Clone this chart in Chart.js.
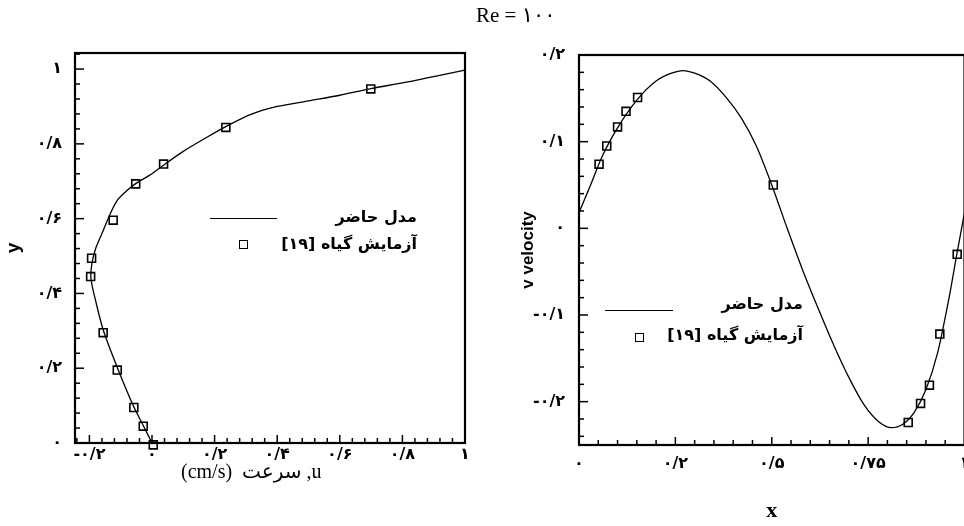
<!DOCTYPE html>
<html><head><meta charset="utf-8">
<script src="https://cdn.jsdelivr.net/npm/chart.js@4.4.0/dist/chart.umd.min.js"></script>
<style>
html,body{margin:0;padding:0;width:964px;height:526px;overflow:hidden;background:#fff;position:relative;}
#c1{position:absolute;left:0;top:0;}
#c2{position:absolute;left:490px;top:0;}
.txt{position:absolute;white-space:nowrap;color:#000;}
.fa{font-family:"DejaVu Sans",sans-serif;font-size:16px;font-weight:bold;line-height:20px;direction:rtl;text-align:right;}
.lline{position:absolute;height:0;border-top:1.4px solid #000;}
.lsq{position:absolute;width:7px;height:7px;border:1.5px solid #000;}
</style></head><body>
<canvas id="c1" width="480" height="526"></canvas>
<canvas id="c2" width="490" height="526"></canvas>

<div class="txt" id="title" style="left:476px;top:3px;font-family:'Liberation Serif','DejaVu Sans',serif;font-size:21px;">Re = ۱۰۰</div>

<div class="txt" style="left:181px;top:459px;font-family:'Liberation Serif','DejaVu Sans',serif;font-size:20px;">(cm/s)&nbsp; سرعت ,u</div>

<!-- left legend -->
<div class="lline" style="left:210px;top:218px;width:67px;"></div>
<div class="txt fa" style="right:547px;top:207px;">مدل حاضر</div>
<div class="lsq" style="left:239px;top:240px;"></div>
<div class="txt fa" style="right:547px;top:234px;">آزمایش گیاه [۱۹]</div>

<!-- right legend -->
<div class="lline" style="left:605px;top:310px;width:68px;"></div>
<div class="txt fa" style="right:161px;top:294px;">مدل حاضر</div>
<div class="lsq" style="left:635px;top:333px;"></div>
<div class="txt fa" style="right:161px;top:325px;">آزمایش گیاه [۱۹]</div>

<script>
// ---- Left panel data (u velocity vs y) ----
const leftModelU = [0.0, -0.03, -0.06, -0.11, -0.155, -0.18, -0.195, -0.192, -0.18, -0.16, -0.135, -0.11, -0.08, -0.05, 0.0, 0.04, 0.10, 0.17, 0.24, 0.32, 0.40, 0.50, 0.60, 0.70, 0.80, 0.90, 1.00];
const leftModelY = [0.0, 0.05, 0.10, 0.20, 0.30, 0.38, 0.44, 0.48, 0.52, 0.56, 0.61, 0.65, 0.675, 0.695, 0.72, 0.745, 0.78, 0.815, 0.848, 0.88, 0.90, 0.915, 0.93, 0.948, 0.963, 0.98, 0.997];
const leftExpU = [0.004, -0.028, -0.058, -0.111, -0.156, -0.196, -0.193, -0.124, -0.052, 0.037, 0.236, 0.699];
const leftExpY = [-0.005, 0.045, 0.095, 0.195, 0.295, 0.445, 0.494, 0.596, 0.693, 0.746, 0.844, 0.947];

// ---- Right panel data (v velocity vs x) ----
const rightModelX = [0.0, 0.03, 0.06, 0.10, 0.15, 0.20, 0.24, 0.27, 0.30, 0.34, 0.38, 0.42, 0.46, 0.50, 0.54, 0.58, 0.62, 0.66, 0.70, 0.74, 0.78, 0.81, 0.84, 0.87, 0.90, 0.93, 0.96, 0.98, 1.0];
const rightModelV = [0.018, 0.05, 0.083, 0.116, 0.148, 0.17, 0.179, 0.182, 0.179, 0.17, 0.152, 0.128, 0.095, 0.05, 0.0, -0.048, -0.092, -0.134, -0.172, -0.204, -0.224, -0.230, -0.226, -0.212, -0.186, -0.144, -0.08, -0.03, 0.018];
const rightExpX = [0.052, 0.072, 0.100, 0.122, 0.152, 0.504, 0.854, 0.886, 0.909, 0.936, 0.981];
const rightExpV = [0.074, 0.095, 0.117, 0.135, 0.151, 0.050, -0.224, -0.202, -0.181, -0.122, -0.030];

// ---- Tick values and labels ----
const leftXTicks = [-0.2, 0, 0.2, 0.4, 0.6, 0.8, 1];
const leftXTickLabels = ['-۰/۲', '۰', '۰/۲', '۰/۴', '۰/۶', '۰/۸', '۱'];
const leftYTicks = [0, 0.2, 0.4, 0.6, 0.8, 1];
const leftYTickLabels = ['۰', '۰/۲', '۰/۴', '۰/۶', '۰/۸', '۱'];
const rightXTicks = [0, 0.25, 0.5, 0.75, 1];
const rightXTickLabels = ['۰', '۰/۲', '۰/۵', '۰/۷۵', '۱'];
const rightYTicks = [-0.2, -0.1, 0, 0.1, 0.2];
const rightYTickLabels = ['-۰/۲', '-۰/۱', '۰', '۰/۱', '۰/۲'];

const pts = (xs, ys) => xs.map((x, i) => ({x: x, y: ys[i]}));
const lab = (vals, labels) => (v) => {
  const i = vals.findIndex(t => Math.abs(t - v) < 1e-9);
  return i >= 0 ? labels[i] : '';
};
const tickFont = {family: 'DejaVu Sans', size: 16, weight: 'bold'};

const frameTicks = {
  id: 'frameTicks',
  afterDatasetsDraw(chart, args, o) {
    const {ctx, chartArea: a, scales: {x, y}} = chart;
    ctx.save();
    ctx.strokeStyle = '#000';
    ctx.lineWidth = 1.5;
    const nx = Math.round((x.max - o.xStart) / o.xMinor);
    for (let k = 0; k <= nx; k++) {
      const v = o.xStart + k * o.xMinor;
      const px = x.getPixelForValue(v);
      if (px < a.left + 1 || px > a.right - 1) continue;
      const major = o.xMajor.some(m => Math.abs(m - v) < 1e-6);
      const len = major ? 8 : 5;
      ctx.beginPath(); ctx.moveTo(px, a.bottom); ctx.lineTo(px, a.bottom - len); ctx.stroke();
    }
    const ny = Math.round((y.max - o.yStart) / o.yMinor);
    for (let k = 0; k <= ny; k++) {
      const v = o.yStart + k * o.yMinor;
      const py = y.getPixelForValue(v);
      if (py < a.top + 1 || py > a.bottom - 1) continue;
      const major = o.yMajor.some(m => Math.abs(m - v) < 1e-6);
      const len = major ? 9 : 5;
      ctx.beginPath(); ctx.moveTo(a.left, py); ctx.lineTo(a.left + len, py); ctx.stroke();
    }
    ctx.lineWidth = 2.2;
    ctx.strokeRect(a.left, a.top, a.right - a.left, a.bottom - a.top);
    ctx.restore();
  }
};

function makeChart(id, cfg) {
  return new Chart(document.getElementById(id), {
    type: 'scatter',
    data: {
      datasets: [
        Object.assign({data: cfg.model, showLine: true, borderColor: '#000', borderWidth: 1.3, pointRadius: 0, fill: false, order: 2}, cfg.lineOpt),
        {data: cfg.exp, showLine: false, pointStyle: 'rect', pointRadius: 5.6, pointBorderWidth: 1.6, clip: false,
         pointBorderColor: '#000', pointBackgroundColor: 'rgba(0,0,0,0)', order: 1}
      ]
    },
    options: {
      responsive: false, animation: false, devicePixelRatio: 1,
      layout: {padding: cfg.padding},
      plugins: {legend: {display: false}, tooltip: {enabled: false}, frameTicks: cfg.ticksOpt},
      scales: {
        x: {
          type: 'linear', min: cfg.xMin, max: cfg.xMax,
          grid: {display: false, drawTicks: false}, border: {display: false},
          afterBuildTicks: s => { s.ticks = cfg.xTicks.map(v => ({value: v})); },
          afterFit: s => { s.height = cfg.xHeight; },
          ticks: {autoSkip: false, maxRotation: 0, padding: cfg.xPad, color: '#000', font: tickFont, callback: lab(cfg.xTicks, cfg.xLabels)},
          title: cfg.xTitle
        },
        y: {
          type: 'linear', min: cfg.yMin, max: cfg.yMax,
          grid: {display: false, drawTicks: false}, border: {display: false},
          afterBuildTicks: s => { s.ticks = cfg.yTicks.map(v => ({value: v})); },
          afterFit: s => { s.width = cfg.yWidth; },
          ticks: {autoSkip: false, padding: cfg.yPad, color: '#000', font: tickFont, callback: lab(cfg.yTicks, cfg.yLabels)},
          title: cfg.yTitle
        }
      }
    },
    plugins: [frameTicks]
  });
}

makeChart('c1', {
  model: pts(leftModelU, leftModelY), exp: pts(leftExpU, leftExpY),
  lineOpt: {tension: 0.3},
  padding: {left: 0, top: 53, right: 15, bottom: 0},
  xMin: -0.246, xMax: 1, yMin: 0, yMax: 1.043,
  xTicks: leftXTicks, xLabels: leftXTickLabels, yTicks: leftYTicks, yLabels: leftYTickLabels,
  xHeight: 83, yWidth: 75, xPad: 2, yPad: 13,
  xTitle: {display: false},
  yTitle: {display: true, text: 'y', color: '#000', font: {family: 'Liberation Sans', size: 19, weight: 'bold'}, padding: {top: 2, bottom: 0}},
  ticksOpt: {xStart: -0.24, xMinor: 0.04, xMajor: leftXTicks, yStart: 0, yMinor: 0.04, yMajor: leftYTicks}
});

makeChart('c2', {
  model: pts(rightModelX, rightModelV), exp: pts(rightExpX, rightExpV),
  lineOpt: {cubicInterpolationMode: 'monotone'},
  padding: {left: 0, top: 55, right: 15.5, bottom: 0},
  xMin: 0, xMax: 1, yMin: -0.25, yMax: 0.2,
  xTicks: rightXTicks, xLabels: rightXTickLabels, yTicks: rightYTicks, yLabels: rightYTickLabels,
  xHeight: 81, yWidth: 89, xPad: 9, yPad: 14,
  xTitle: {display: true, text: 'x', color: '#000', font: {family: 'Liberation Serif', size: 22, weight: 'bold'}, padding: {top: 0, bottom: 1}},
  yTitle: {display: true, text: 'v velocity', color: '#000', font: {family: 'Liberation Sans', size: 17, weight: 'bold'}, padding: {top: 28, bottom: 0}},
  ticksOpt: {xStart: 0, xMinor: 0.05, xMajor: rightXTicks, yStart: -0.24, yMinor: 0.02, yMajor: rightYTicks}
});
</script>
</body></html>
